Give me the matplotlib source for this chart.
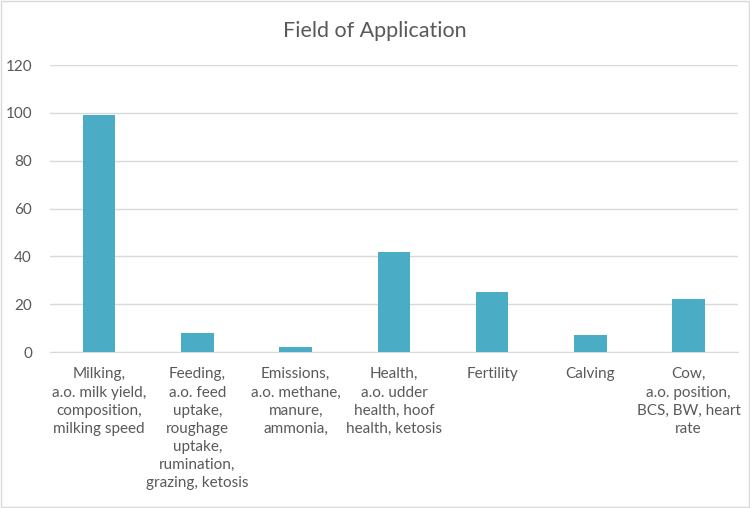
import matplotlib.pyplot as plt
from matplotlib.patches import Rectangle

categories = [
    "Milking,\na.o. milk yield,\ncomposition,\nmilking speed",
    "Feeding,\na.o. feed\nuptake,\nroughage\nuptake,\nrumination,\ngrazing, ketosis",
    "Emissions,\na.o. methane,\nmanure,\nammonia,",
    "Health,\na.o. udder\nhealth, hoof\nhealth, ketosis",
    "Fertility",
    "Calving",
    "Cow,\na.o. position,\nBCS, BW, heart\nrate",
]
values = [99, 8, 2, 42, 25, 7, 22]
yticks = [0, 20, 40, 60, 80, 100, 120]

plt.rcParams['font.family'] = ['Lato', 'DejaVu Sans']

fig = plt.figure(figsize=(7.5, 5.08), dpi=100)
ax = fig.add_axes([0.0667, 0.307, 0.917, 0.565])

x = range(len(values))
ax.bar(x, values, width=0.33, color='#4bacc6', zorder=3)

ax.set_xlim(-0.5, len(values) - 0.5)
ax.set_ylim(0, 120)
ax.set_yticks(yticks)
ax.set_xticks(list(x))
ax.set_xticklabels(categories, fontsize=11, color='#595959', linespacing=1.38)
ax.tick_params(axis='y', labelsize=11, labelcolor='#595959', length=0, pad=13)
ax.tick_params(axis='x', length=0, pad=11)
ax.grid(axis='y', color='#d9d9d9', linewidth=1, zorder=0)
for s in ['top', 'right', 'left']:
    ax.spines[s].set_visible(False)
ax.spines['bottom'].set_color('#d9d9d9')

fig.text(0.5, 0.938, "Field of Application", ha='center', va='center',
         fontsize=15.5, color='#595959')

fig.patches.append(Rectangle((0.001, 0.001), 0.997, 0.997, transform=fig.transFigure,
                             fill=False, edgecolor='#d9d9d9', linewidth=1))

fig.savefig('out.png', dpi=100)
